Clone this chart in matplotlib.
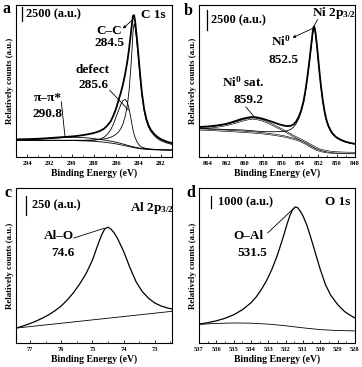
import matplotlib
matplotlib.use("Agg")
import matplotlib.pyplot as plt
import matplotlib.transforms as mtransforms
from matplotlib.ticker import MultipleLocator

plt.rcParams['font.family'] = ['Liberation Serif', 'DejaVu Serif']
plt.rcParams['font.weight'] = 'bold'
plt.rcParams['mathtext.fontset'] = 'custom'
plt.rcParams['mathtext.rm'] = 'Liberation Serif:bold'
plt.rcParams['mathtext.it'] = 'Liberation Serif:bold'
plt.rcParams['mathtext.bf'] = 'Liberation Serif:bold'

# ---- panel a : C 1s ----
a_x = [295, 294, 293, 292, 291, 290.5, 290, 289.5, 289, 288.5, 288, 287.5, 287.1, 286.8, 286.5,
       286.25, 286.0, 285.8, 285.6, 285.4, 285.2, 285.0, 284.85, 284.7, 284.6, 284.5, 284.4, 284.3,
       284.15, 284.0, 283.85, 283.7, 283.5, 283.3, 283.1, 282.9, 282.6, 282.3, 282.0, 281.5, 281.0]
a_env = [3300, 3350, 3420, 3550, 3700, 3780, 3850, 3950, 4100, 4280, 4500, 4850, 5300, 5900, 6700,
         7800, 9200, 10600, 12000, 13600, 15600, 18000, 20300, 23000, 24800, 26500, 26600, 25300,
         22300, 18800, 15200, 12000, 9000, 7100, 5900, 5100, 4300, 3750, 3350, 2900, 2600]
a_cc = [3170, 3160, 3150, 3140, 3140, 3140, 3140, 3145, 3150, 3170, 3200, 3280, 3380, 3500, 3700,
        3950, 4300, 4700, 5300, 6200, 7600, 9800, 12500, 16500, 19800, 23300, 25000, 24300,
        21500, 18200, 14700, 11600, 8700, 6800, 5600, 4800, 4000, 3450, 3050, 2650, 2350]
a_defect = [3160, 3150, 3130, 3120, 3110, 3100, 3090, 3070, 3060, 3080, 3150, 3350, 3700, 4250, 5100,
            6200, 7600, 8700, 9800, 10600, 10800, 10200, 9000, 7400, 6200, 5100, 4200, 3600,
            2900, 2400, 2050, 1850, 1700, 1600, 1530, 1480, 1430, 1390, 1360, 1330, 1310]
a_pi = [3200, 3270, 3350, 3470, 3600, 3660, 3700, 3690, 3650, 3560, 3450, 3300, 3180, 3080, 2980,
        2880, 2760, 2660, 2560, 2440, 2320, 2200, 2110, 2030, 1980, 1930, 1880, 1830,
        1770, 1710, 1660, 1620, 1570, 1530, 1490, 1460, 1420, 1390, 1360, 1330, 1310]
a_bg = [3160, 3150, 3140, 3125, 3110, 3100, 3090, 3070, 3040, 3000, 2950, 2860, 2780, 2700, 2620,
        2540, 2450, 2370, 2290, 2200, 2110, 2020, 1950, 1880, 1840, 1790, 1750, 1710,
        1650, 1600, 1550, 1510, 1470, 1430, 1400, 1380, 1350, 1330, 1310, 1300, 1290]

# ---- panel b : Ni 2p3/2 ----
b_x = [865, 864, 863, 862, 861, 860.5, 860, 859.5, 859.2, 858.8, 858.3, 857.8, 857.3, 856.8, 856.3,
       855.8, 855.4, 855.0, 854.7, 854.4, 854.1, 853.85, 853.6, 853.4, 853.2, 853.0, 852.85, 852.7,
       852.6, 852.5, 852.4, 852.3, 852.15, 852.0, 851.85, 851.7, 851.5, 851.3, 851.1, 850.9, 850.6,
       850.3, 850.0, 849.5, 849.0, 848.5, 848.0]
b_env = [3750, 3820, 3950, 4150, 4500, 4700, 4850, 4960, 5000, 4970, 4850, 4690, 4500, 4300, 4100,
         3940, 3860, 3900, 4080, 4450, 5100, 5900, 7000, 8300, 9900, 11700, 13200, 14700,
         15700, 16300, 16200, 15500, 14000, 12200, 10400, 8800, 7000, 5600, 4600, 3900, 3200,
         2750, 2450, 2120, 1900, 1750, 1650]
b_ni = [3600, 3540, 3490, 3430, 3410, 3395, 3350, 3300, 3280, 3240, 3190, 3170, 3160, 3160, 3170,
        3200, 3270, 3450, 3730, 4180, 4880, 5710, 6800, 8110, 9700, 11500, 13000, 14500,
        15500, 16110, 16010, 15310, 13820, 12040, 10250, 8650, 6860, 5470, 4480, 3790, 3110,
        2675, 2380, 2065, 1850, 1705, 1610]
b_sat = [3600, 3680, 3800, 4000, 4300, 4480, 4640, 4760, 4800, 4770, 4650, 4450, 4200, 3920, 3620,
         3330, 3080, 2820, 2630, 2450, 2280, 2140, 2000, 1880, 1760, 1620, 1520, 1420,
         1360, 1290, 1230, 1170, 1090, 1010, 950, 890, 830, 780, 730, 690, 640,
         600, 580, 550, 530, 520, 510]
b_bg = [3450, 3400, 3340, 3280, 3210, 3175, 3140, 3100, 3080, 3040, 2990, 2930, 2860, 2780, 2690,
        2590, 2490, 2370, 2280, 2180, 2060, 1950, 1800, 1690, 1560, 1420, 1320, 1220,
        1160, 1100, 1040, 980, 910, 850, 800, 740, 690, 650, 610, 580, 550,
        525, 510, 495, 480, 475, 470]

# ---- panel c : Al 2p3/2 ----
c_x = [77.45, 77.2, 77.0, 76.8, 76.6, 76.4, 76.2, 76.0, 75.8, 75.6, 75.4, 75.2, 75.0, 74.9, 74.8,
       74.7, 74.6, 74.5, 74.4, 74.3, 74.2, 74.0, 73.8, 73.6, 73.4, 73.2, 73.0, 72.8, 72.6, 72.45]
c_alo = [203, 235, 265, 300, 340, 385, 440, 505, 590, 690, 810, 950, 1130, 1250, 1370,
         1480, 1560, 1580, 1550, 1500, 1430, 1250, 1030, 835, 700, 610, 545, 505, 478, 464]
c_bg_x = [77.45, 72.45]
c_bg = [203, 432]

# ---- panel d : O 1s ----
d_x = [537, 536.5, 536, 535.5, 535, 534.5, 534, 533.7, 533.4, 533.1, 532.8, 532.5, 532.3, 532.1,
       531.9, 531.75, 531.6, 531.45, 531.3, 531.15, 531.0, 530.8, 530.6, 530.4, 530.2, 530.0,
       529.7, 529.4, 529.0, 528.6, 528.3, 528.0]
d_oal = [1620, 1740, 1900, 2120, 2420, 2850, 3450, 3950, 4600, 5350, 6300, 7450, 8350, 9300,
         10300, 10950, 11450, 11680, 11600, 11300, 10900, 10200, 9300, 8300, 7300, 6300,
         5000, 4100, 3300, 2700, 2400, 2150]
d_bg_x = [537, 536, 535, 534, 533, 532, 531, 530, 529, 528]
d_bg = [1600, 1680, 1720, 1700, 1620, 1480, 1300, 1150, 1070, 1040]

fig = plt.figure(figsize=(3.62, 3.67), dpi=100)
ax_a = fig.add_axes([0.0442, 0.5722, 0.4309, 0.4142])
ax_b = fig.add_axes([0.5497, 0.5722, 0.4309, 0.4142])
ax_c = fig.add_axes([0.0442, 0.0654, 0.4309, 0.4223])
ax_d = fig.add_axes([0.5497, 0.0654, 0.4309, 0.4223])

FS = 9.5


def style(ax, xlim, ylim, major, minor):
    ax.set_xlim(*xlim)
    ax.set_ylim(*ylim)
    ax.set_yticks([])
    ax.xaxis.set_major_locator(MultipleLocator(major))
    ax.xaxis.set_minor_locator(MultipleLocator(minor))
    ax.tick_params(axis='x', which='major', direction='in', length=2.5, width=0.6,
                   labelsize=4.6, pad=3)
    ax.tick_params(axis='x', which='minor', direction='in', length=1.3, width=0.5)
    for sp in ax.spines.values():
        sp.set_linewidth(0.8)
    ax.set_xlabel('Binding Energy (eV)', fontsize=7, fontweight='bold', labelpad=1.5)
    ax.set_ylabel('Relatively counts (a.u.)', fontsize=6.4, fontweight='bold', labelpad=1.5)


def scale_bar(ax, xf, y0, y1, label, xt):
    tr = mtransforms.blended_transform_factory(ax.transAxes, ax.transData)
    ax.plot([xf, xf], [y0, y1], color='black', lw=0.9, transform=tr)
    ax.text(xt, (y0 + y1) / 2, label, transform=tr, fontsize=8.8, ha='left', va='center')


def double_line(ax, x, y):
    ax.plot(x, y, color='black', lw=1.3)
    ax.plot(x, y, color='white', lw=0.45)


def label(ax, fx, fy, s):
    ax.text(fx, fy, s, transform=ax.transAxes, fontsize=FS, ha='center', va='center')


def pointer(ax, target, start, style='-'):
    ax.annotate('', xy=target, xycoords='data', xytext=start, textcoords='axes fraction',
                arrowprops=dict(arrowstyle=style, lw=0.6, color='black',
                                shrinkA=0, shrinkB=0, mutation_scale=4))


# panel a
ax = ax_a
ax.plot(a_x, a_bg, color='black', lw=0.6)
ax.plot(a_x, a_pi, color='black', lw=0.6)
ax.plot(a_x, a_defect, color='black', lw=0.6)
ax.plot(a_x, a_cc, color='black', lw=0.6)
ax.plot(a_x, a_env, color='black', lw=1.3)
style(ax, (295, 281), (0, 28500), 2, 1)
scale_bar(ax, 0.038, 25590, 28090, '2500 (a.u.)', 0.062)
label(ax, 0.88, 0.934, 'C 1s')
label(ax, 0.595, 0.83, 'C\u2013C')
label(ax, 0.60, 0.75, '284.5')
label(ax, 0.49, 0.57, 'defect')
label(ax, 0.50, 0.475, '285.6')
label(ax, 0.205, 0.385, '\u03c0\u2013\u03c0*')
label(ax, 0.20, 0.28, '290.8')
pointer(ax, (284.6, 25600), (0.685, 0.845), '<|-')
pointer(ax, (284.9, 8800), (0.60, 0.44))
pointer(ax, (290.6, 3800), (0.29, 0.365))

# panel b
ax = ax_b
double_line(ax, b_x, b_bg)
double_line(ax, b_x, b_sat)
ax.plot(b_x, b_ni, color='black', lw=0.6)
ax.plot(b_x, b_env, color='black', lw=1.3)
style(ax, (865, 848), (0, 19000), 2, 1)
scale_bar(ax, 0.051, 15850, 18350, '2500 (a.u.)', 0.078)
label(ax, 0.865, 0.947, 'Ni 2p$_{3/2}$')
label(ax, 0.525, 0.76, 'Ni$^{0}$')
label(ax, 0.54, 0.64, '852.5')
label(ax, 0.285, 0.49, 'Ni$^{0}$ sat.')
label(ax, 0.315, 0.375, '859.2')
pointer(ax, (852.55, 16100), (0.60, 0.785), '<|-')
pointer(ax, (852.5, 16300), (0.76, 0.905))
pointer(ax, (859.0, 5050), (0.30, 0.33))

# panel c
ax = ax_c
ax.plot(c_bg_x, c_bg, color='black', lw=0.6)
ax.plot(c_x, c_alo, color='black', lw=0.9)
style(ax, (77.45, 72.45), (0, 2114), 1, 0.5)
scale_bar(ax, 0.064, 1750, 2000, '250 (a.u.)', 0.10)
label(ax, 0.87, 0.87, 'Al 2p$_{3/2}$')
label(ax, 0.277, 0.69, 'Al\u2013O')
label(ax, 0.30, 0.58, '74.6')
pointer(ax, (74.62, 1565), (0.37, 0.677))

# panel d
ax = ax_d
ax.plot(d_bg_x, d_bg, color='black', lw=0.6)
ax.plot(d_x, d_oal, color='black', lw=0.9)
style(ax, (537, 528), (0, 13300), 1, 0.5)
scale_bar(ax, 0.077, 11580, 12580, '1000 (a.u.)', 0.125)
label(ax, 0.89, 0.91, 'O 1s')
label(ax, 0.32, 0.69, 'O\u2013Al')
label(ax, 0.34, 0.58, '531.5')
pointer(ax, (531.5, 11600), (0.44, 0.71))

for lab, (fx, fy) in zip('abcd', [(0.017, 0.975), (0.52, 0.97), (0.022, 0.474), (0.528, 0.474)]):
    fig.text(fx, fy, lab, fontsize=11.5, fontweight='bold', ha='center', va='center')

fig.savefig('out.png', dpi=100)
